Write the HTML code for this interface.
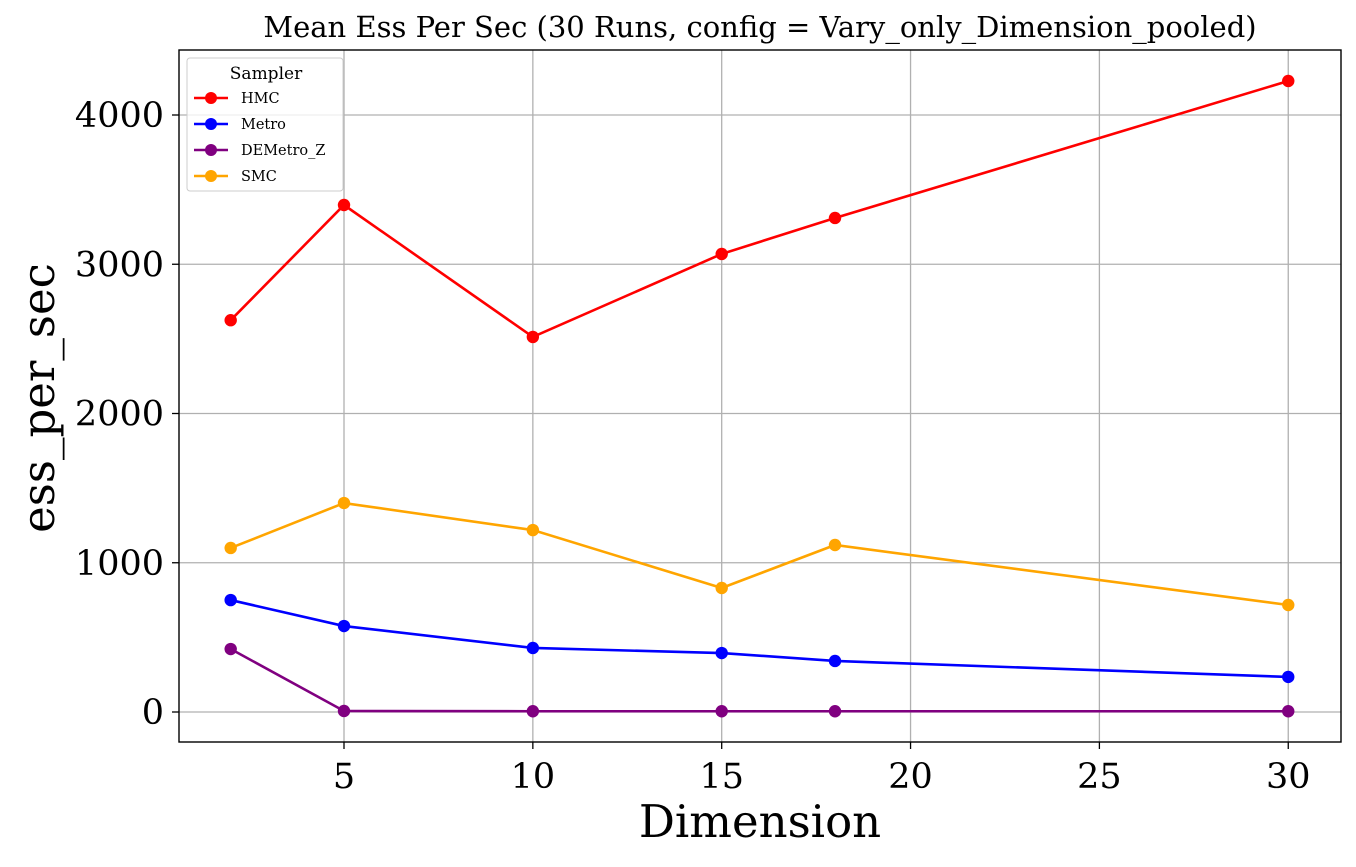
<!DOCTYPE html>
<html><head><meta charset="utf-8"><style>
html,body{margin:0;padding:0;background:#fff;}
svg text{font-family:"DejaVu Serif","Liberation Serif",serif;}
</style></head><body>
<svg id="chart" width="1356" height="862" xmlns="http://www.w3.org/2000/svg"></svg>
<script>
const dims = [2, 5, 10, 15, 18, 30];
const seriesNames = ["HMC", "Metro", "DEMetro_Z", "SMC"];
const hmcVals = [2625, 3397, 2513, 3069, 3310, 4228];
const metroVals = [750, 576, 429, 395, 342, 235];
const demetroVals = [422, 7, 5, 5, 5, 5];
const smcVals = [1099, 1400, 1219, 831, 1119, 717];
const xTicks = [5, 10, 15, 20, 25, 30];
const yTicks = [0, 1000, 2000, 3000, 4000];

const colors = ["#ff0000", "#0000ff", "#800080", "#ffa500"];
const allVals = [hmcVals, metroVals, demetroVals, smcVals];
const L = 179, R = 1341, T = 50, B = 742;
const xs = v => 344 + (v - 5) * 37.77;
const ys = v => 712 - v * 0.14925;
const svg = document.getElementById('chart');
const NS = 'http://www.w3.org/2000/svg';
function mk(tag, attrs, parent) {
  const e = document.createElementNS(NS, tag);
  for (const k in attrs) e.setAttribute(k, attrs[k]);
  (parent || svg).appendChild(e);
  return e;
}
xTicks.forEach(t => {
  const g = mk('line', {x1: xs(t), x2: xs(t), y1: T, y2: B, stroke: '#b0b0b0', 'stroke-width': 1.3});
  
  
  const tk = mk('line', {x1: xs(t), x2: xs(t), y1: B, y2: B + 7, stroke: '#000', 'stroke-width': 1.3});
  
  
  const tx = mk('text', {x: xs(t), y: B + 46, 'font-size': 35, 'text-anchor': 'middle'});
  tx.textContent = t;
  
  
});
yTicks.forEach(t => {
  const g = mk('line', {x1: L, x2: R, y1: ys(t), y2: ys(t), stroke: '#b0b0b0', 'stroke-width': 1.3});
  
  
  const tk = mk('line', {x1: L - 7, x2: L, y1: ys(t), y2: ys(t), stroke: '#000', 'stroke-width': 1.3});
  
  
  const tx = mk('text', {x: L - 15, y: ys(t) + 12, 'font-size': 35, 'text-anchor': 'end'});
  tx.textContent = t;
  
  
});
const frame = mk('rect', {x: L, y: T, width: R - L, height: B - T, fill: 'none', stroke: '#000', 'stroke-width': 1.4});


allVals.forEach((vals, i) => {
  const pts = dims.map((d, j) => xs(d) + ',' + ys(vals[j])).join(' ');
  const pl = mk('polyline', {points: pts, fill: 'none', stroke: colors[i], 'stroke-width': 2.6});
  
  
  dims.forEach((d, j) => {
    const c = mk('circle', {cx: xs(d), cy: ys(vals[j]), r: 6.2, fill: colors[i]});
    
    
  });
});
const title = mk('text', {x: 760, y: 37, 'font-size': 29, 'text-anchor': 'middle'});
title.textContent = 'Mean Ess Per Sec (30 Runs, config = Vary_only_Dimension_pooled)';


const xl = mk('text', {x: 760, y: 837, 'font-size': 45, 'text-anchor': 'middle'});
xl.textContent = 'Dimension';


const yl = mk('text', {x: 0, y: 0, 'font-size': 45, 'text-anchor': 'middle', transform: 'translate(54,398) rotate(-90)'});
yl.textContent = 'ess_per_sec';


const lg = mk('g', {});


mk('rect', {x: 187, y: 58, width: 156, height: 133, rx: 3, fill: '#fff', 'fill-opacity': 0.8, stroke: '#ccc'}, lg);
const lt = mk('text', {x: 266, y: 79, 'font-size': 17, 'text-anchor': 'middle'}, lg);
lt.textContent = 'Sampler';
seriesNames.forEach((n, i) => {
  const y = 98 + i * 26;
  const e = mk('g', {}, lg);
  
  
  mk('line', {x1: 194, x2: 228, y1: y, y2: y, stroke: colors[i], 'stroke-width': 2.4}, e);
  mk('circle', {cx: 211, cy: y, r: 6, fill: colors[i]}, e);
  const t = mk('text', {x: 241, y: y + 5, 'font-size': 14.5}, e);
  t.textContent = n;
});
</script>
</body></html>
